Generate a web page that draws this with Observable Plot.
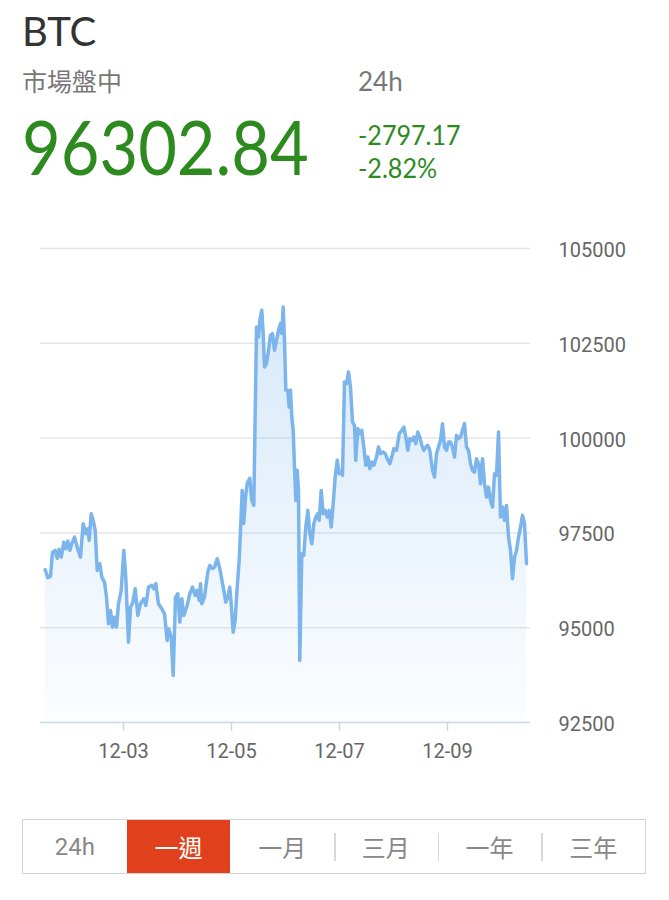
<!DOCTYPE html>
<html><head><meta charset="utf-8">
<script src="https://cdn.jsdelivr.net/npm/d3@7"></script>
<script src="https://cdn.jsdelivr.net/npm/@observablehq/plot@0.6"></script>
<style>
html,body{margin:0;padding:0;background:#fff;}
body{width:669px;height:900px;position:relative;overflow:hidden;font-family:Lato,"Noto Sans CJK TC",sans-serif;}
.abs{position:absolute;line-height:1;white-space:nowrap;}
.cond{transform-origin:0 0;}
#chart{position:absolute;left:0;top:230px;}
#bar{position:absolute;left:22px;top:819px;width:622px;height:53px;border:1.5px solid #d4d4d4;display:flex;font-family:Roboto,"Noto Sans CJK TC",sans-serif;}
.btn{flex:1;position:relative;display:flex;align-items:center;justify-content:center;font-size:24px;color:#888;}
.btn.active{background:#e0411c;color:#fff;}
.sep{position:absolute;left:0;top:13px;height:28px;width:1.5px;background:#d8d8d8;}
</style></head><body>
<div class="abs" id="sym" style="left:22px;top:11px;font-size:40px;color:#333"></div>
<div class="abs" id="status" style="left:22px;top:69px;font-size:25px;color:#777"></div>
<div class="abs" id="period" style="left:358px;top:68px;font-size:26px;color:#777"></div>
<div class="abs cond" id="price" style="left:22px;top:109px;font-size:75px;color:#2c8a1e;transform:scaleX(0.89)"></div>
<div class="abs cond" id="chg" style="left:358px;top:121px;font-size:27px;color:#2c8a1e;transform:scaleX(0.93)"></div>
<div class="abs cond" id="pct" style="left:358px;top:154px;font-size:27px;color:#2c8a1e;transform:scaleX(0.93)"></div>
<div id="chart"></div>
<div id="bar"></div>
<script>
// ---- header values ----
const symbol = "BTC";
const statusLabel = "市場盤中";
const periodLabel = "24h";
const lastPrice = "96302.84";
const change = "-2797.17";
const changePct = "-2.82%";

// ---- range buttons ----
const ranges = ["24h", "一週", "一月", "三月", "一年", "三年"];
const activeRange = 1;

// ---- axes ----
const yTicks = [92500, 95000, 97500, 100000, 102500, 105000];
const xTicks = ["12-03 00:00", "12-05 00:00", "12-07 00:00", "12-09 00:00"];
const xDomain = ["12-01 11:07", "12-10 12:53"];

// ---- series ----
const times = [
"12-01 13:12","12-01 14:22","12-01 15:33","12-01 16:27","12-01 17:39","12-01 18:32","12-01 19:25","12-01 20:19","12-01 21:28","12-01 22:22","12-01 23:15",
"12-02 00:08","12-02 01:01","12-02 02:13","12-02 03:25","12-02 04:53","12-02 06:05","12-02 07:15","12-02 08:08","12-02 08:46","12-02 09:39","12-02 10:32","12-02 11:25","12-02 12:19","12-02 13:28","12-02 14:22","12-02 15:33","12-02 16:27","12-02 17:20","12-02 18:13","12-02 19:07","12-02 20:00","12-02 20:53","12-02 21:47","12-02 22:59",
"12-03 00:08","12-03 01:01","12-03 02:13","12-03 03:07","12-03 04:00","12-03 05:12","12-03 06:22","12-03 07:33","12-03 09:01","12-03 09:55","12-03 11:07","12-03 12:35","12-03 13:28","12-03 14:22","12-03 15:33","12-03 17:01","12-03 18:13","12-03 19:25","12-03 20:08","12-03 21:12","12-03 22:05","12-03 23:07",
"12-04 00:08","12-04 01:01","12-04 01:55","12-04 02:48","12-04 04:19","12-04 05:28","12-04 06:40","12-04 07:52","12-04 08:45","12-04 09:38","12-04 10:13","12-04 10:48","12-04 12:00","12-04 13:28","12-04 14:21","12-04 15:33","12-04 16:27","12-04 17:38","12-04 18:48","12-04 20:19","12-04 21:28","12-04 22:21","12-04 23:14","12-04 23:52",
"12-05 00:45","12-05 01:38","12-05 02:32","12-05 03:25","12-05 04:45","12-05 05:28","12-05 06:13","12-05 06:59","12-05 08:08","12-05 09:01","12-05 09:55","12-05 11:07","12-05 12:00","12-05 12:35","12-05 13:28","12-05 14:05","12-05 14:40","12-05 15:33","12-05 16:27","12-05 17:20","12-05 18:13","12-05 19:07","12-05 20:00","12-05 20:53","12-05 21:47","12-05 22:21","12-05 22:58","12-05 23:33",
"12-06 00:08","12-06 01:01","12-06 01:38","12-06 02:13","12-06 02:48","12-06 03:25","12-06 04:00","12-06 04:35","12-06 05:12","12-06 05:47","12-06 06:21","12-06 07:14","12-06 08:08","12-06 09:01","12-06 09:55","12-06 10:48","12-06 11:41","12-06 12:35","12-06 13:28","12-06 14:21","12-06 14:59","12-06 15:52","12-06 16:45","12-06 17:38","12-06 18:32","12-06 19:25","12-06 20:19","12-06 21:12","12-06 22:05","12-06 22:59","12-06 23:52",
"12-07 00:45","12-07 01:20","12-07 02:13","12-07 03:07","12-07 04:00","12-07 04:53","12-07 05:47","12-07 06:40","12-07 07:14","12-07 08:08","12-07 09:01","12-07 09:55","12-07 10:48","12-07 11:41","12-07 12:35","12-07 13:28","12-07 14:21","12-07 15:14","12-07 16:27","12-07 17:20","12-07 18:13","12-07 19:25","12-07 20:19","12-07 21:12","12-07 22:22","12-07 23:14",
"12-08 00:08","12-08 01:20","12-08 02:32","12-08 03:41","12-08 04:35","12-08 05:28","12-08 06:21","12-08 07:14","12-08 08:08","12-08 09:01","12-08 09:55","12-08 10:48","12-08 11:41","12-08 12:35","12-08 13:28","12-08 14:21","12-08 15:14","12-08 16:08","12-08 17:20","12-08 18:13","12-08 19:07","12-08 20:00","12-08 20:53","12-08 21:47","12-08 22:40","12-08 23:33",
"12-09 00:27","12-09 01:20","12-09 02:13","12-09 03:07","12-09 04:00","12-09 04:53","12-09 05:47","12-09 06:40","12-09 07:33","12-09 08:27","12-09 09:20","12-09 10:13","12-09 11:07","12-09 12:00","12-09 12:53","12-09 13:47","12-09 14:40","12-09 15:33","12-09 16:27","12-09 17:20","12-09 18:13","12-09 19:07","12-09 20:00","12-09 20:53","12-09 21:47","12-09 22:40","12-09 23:33",
"12-10 00:27","12-10 01:20","12-10 02:13","12-10 03:07","12-10 04:00","12-10 04:53","12-10 05:47","12-10 06:40","12-10 07:33","12-10 08:27","12-10 09:20","12-10 10:13","12-10 11:07"
];
const prices = [
96530,96318,96352,96993,97038,96827,97065,96861,97257,97083,97284,
97038,97215,97389,97125,96861,97743,97479,97611,97302,98007,97830,97566,96511,96687,96334,96202,95806,95104,95455,95015,95278,95015,95632,95983,
97038,96334,94619,95542,95632,96028,95323,95632,95764,95587,96070,96115,96028,96160,95632,95500,95368,94664,94972,94751,93740,95806,
95896,95146,95764,95323,95587,95896,96070,95851,95983,95719,96160,95632,95806,96466,96642,96555,96598,96819,96555,96070,95674,95806,96070,95632,
94883,95191,96070,96774,98621,97751,98437,98806,98938,98357,98225,102930,102666,103107,103371,102756,101875,101964,102315,102711,102756,102315,102579,102843,103020,102756,103458,102579,
101260,101260,100819,101260,100555,100204,99236,98357,99149,98621,94136,96951,96906,97653,98094,97479,97215,97743,97917,98007,97830,98621,98007,98094,97917,98094,97653,98270,98972,99413,99062,
99104,99017,101479,101437,101743,101347,100423,100336,99413,100249,100117,100204,99764,99281,99500,99194,99368,99281,99500,99764,99590,99632,99590,99458,99326,99500,
99722,99677,100117,100204,100291,100028,99677,99985,99941,100028,99854,100160,100028,99809,99677,99764,99809,99677,99149,98972,99590,99764,99941,100381,99764,99677,
99896,99896,99764,99500,100072,99985,100028,100204,100381,99764,99677,99326,99149,99104,99458,99326,98798,99458,98798,98445,98708,98357,98181,99062,99017,100160,97917,
98181,97830,98225,97389,97038,96292,96861,97038,97389,97653,97962,97743,96687
];

// ---- header ----
document.getElementById("sym").textContent = symbol;
document.getElementById("status").textContent = statusLabel;
document.getElementById("period").textContent = periodLabel;
document.getElementById("price").textContent = lastPrice;
document.getElementById("chg").textContent = change;
document.getElementById("pct").textContent = changePct;

// ---- buttons ----
const bar = document.getElementById("bar");
ranges.forEach((r, i) => {
  const b = document.createElement("div");
  b.className = "btn" + (i === activeRange ? " active" : "");
  b.textContent = r;
  if (i > 0 && i !== activeRange && i - 1 !== activeRange) {
    const s = document.createElement("div"); s.className = "sep"; b.appendChild(s);
  }
  bar.appendChild(b);
});

// ---- chart ----
const parse = d3.utcParse("%Y-%m-%d %H:%M");
const P = s => parse("2024-" + s);
const data = times.map((t, i) => ({date: P(t), price: prices[i]}));

const gradientDefs = () => {
  const ns = "http://www.w3.org/2000/svg";
  const defs = document.createElementNS(ns, "defs");
  const g = document.createElementNS(ns, "linearGradient");
  g.setAttribute("id", "btcGrad");
  g.setAttribute("x1", "0"); g.setAttribute("y1", "0"); g.setAttribute("x2", "0"); g.setAttribute("y2", "1");
  [[0, 0.30], [1, 0.03]].forEach(([o, op]) => {
    const s = document.createElementNS(ns, "stop");
    s.setAttribute("offset", o); s.setAttribute("stop-color", "#7cb5ec"); s.setAttribute("stop-opacity", op);
    g.appendChild(s);
  });
  defs.appendChild(g);
  return defs;
};

const chart = Plot.plot({
  width: 669, height: 540,
  marginTop: 18, marginBottom: 48, marginLeft: 40, marginRight: 139,
  style: {fontFamily: "Roboto, sans-serif", fontSize: "20px", background: "transparent", overflow: "visible"},
  x: {type: "utc", domain: xDomain.map(P), label: null},
  y: {domain: [yTicks[0], yTicks[yTicks.length - 1]], label: null},
  marks: [
    gradientDefs,
    Plot.gridY(yTicks.slice(1), {stroke: "#e6e6e6", strokeOpacity: 1, strokeWidth: 1.5}),
    Plot.areaY(data, {x: "date", y1: yTicks[0], y2: "price", fill: "url(#btcGrad)"}),
    Plot.lineY(data, {x: "date", y: "price", stroke: "#7cb5ec", strokeWidth: 3.5, strokeLinejoin: "round", strokeLinecap: "round"}),
    Plot.ruleY([yTicks[0]], {stroke: "#ccd6eb", strokeWidth: 1.5}),
    Plot.axisX(xTicks.map(P), {tickFormat: d3.utcFormat("%m-%d"), tickSize: 9, tickPadding: 12, stroke: "#ccd6eb", strokeOpacity: 1, strokeWidth: 1.5, fill: "#666", fontSize: 20, label: null}),
    Plot.axisY(yTicks, {anchor: "right", tickSize: 0, tickPadding: 28, tickFormat: d => String(d), fill: "#666", fontSize: 20, dy: 2, label: null})
  ]
});
document.getElementById("chart").appendChild(chart);
</script>
</body></html>
